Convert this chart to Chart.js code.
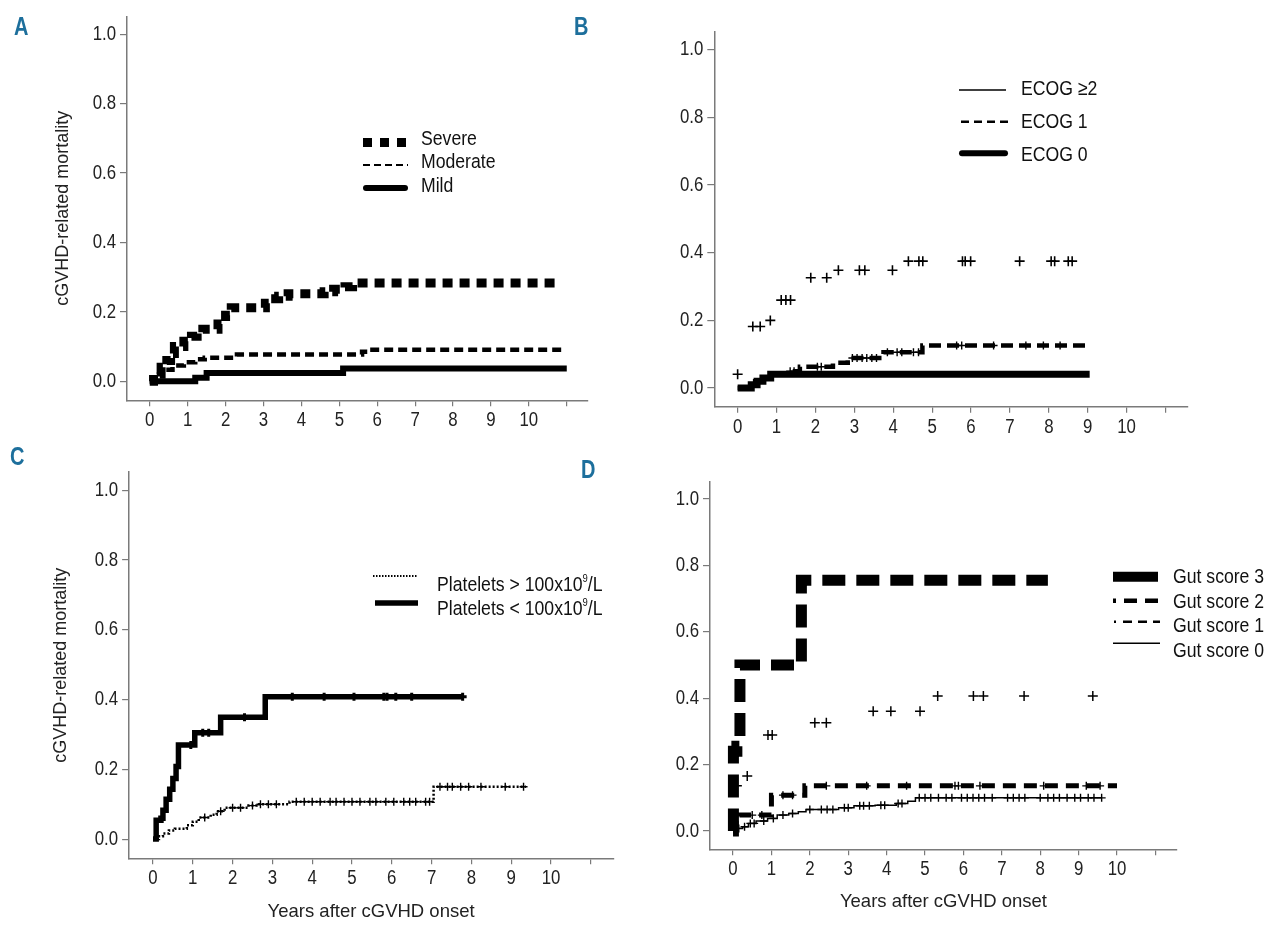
<!DOCTYPE html>
<html><head><meta charset="utf-8">
<script src="https://cdn.jsdelivr.net/npm/chart.js@4.4.0/dist/chart.umd.min.js"></script>
<style>
html,body{margin:0;padding:0;background:#fff;}
#fig{position:relative;width:1280px;height:930px;overflow:hidden;background:#fff;}
canvas{position:absolute;}
.plabel{position:absolute;color:#1d6f9c;font-weight:bold;font-size:25px;line-height:25px;font-family:"Liberation Sans",Arial,sans-serif;transform:scaleX(0.8);transform-origin:0 0;}
.leg{position:absolute;font-size:20.5px;line-height:21px;color:#111;white-space:nowrap;font-family:"Liberation Sans",Arial,sans-serif;transform:scaleX(0.86);transform-origin:0 0;}
.sup{font-size:11px;position:relative;top:-9px;}
#legsvg{position:absolute;left:0;top:0;pointer-events:none;}
</style></head>
<body>
<div id="fig">
<canvas id="cA" width="640" height="440" style="left:0;top:0;width:640px;height:440px"></canvas>
<canvas id="cB" width="640" height="440" style="left:640px;top:0;width:640px;height:440px"></canvas>
<canvas id="cC" width="640" height="490" style="left:0;top:440px;width:640px;height:490px"></canvas>
<canvas id="cD" width="640" height="490" style="left:640px;top:440px;width:640px;height:490px"></canvas>

<div class="plabel" style="left:14px;top:14px">A</div>
<div class="plabel" style="left:574px;top:14px">B</div>
<div class="plabel" style="left:10px;top:444px">C</div>
<div class="plabel" style="left:581px;top:457px">D</div>

<svg id="legsvg" width="1280" height="930">
  <!-- A -->
  <rect x="363" y="138" width="9" height="9" fill="#000"/>
  <rect x="380" y="138" width="9" height="9" fill="#000"/>
  <rect x="397" y="138" width="9" height="9" fill="#000"/>
  <line x1="363" y1="165" x2="408" y2="165" stroke="#000" stroke-width="2.2" stroke-dasharray="7 4"/>
  <line x1="366" y1="188" x2="405" y2="188" stroke="#000" stroke-width="6" stroke-linecap="round"/>
  <!-- B -->
  <line x1="959" y1="90" x2="1006" y2="90" stroke="#000" stroke-width="1.5"/>
  <line x1="961" y1="121.7" x2="1008" y2="121.7" stroke="#000" stroke-width="2.5" stroke-dasharray="8 5"/>
  <line x1="962" y1="153.3" x2="1005" y2="153.3" stroke="#000" stroke-width="6" stroke-linecap="round"/>
  <!-- C -->
  <line x1="373" y1="576" x2="418" y2="576" stroke="#000" stroke-width="2" stroke-dasharray="1.5 1.5"/>
  <line x1="375" y1="603" x2="418" y2="603" stroke="#000" stroke-width="5.5"/>
  <!-- D -->
  <line x1="1113" y1="576.7" x2="1158" y2="576.7" stroke="#000" stroke-width="10"/>
  <line x1="1113" y1="600.7" x2="1158" y2="600.7" stroke="#000" stroke-width="4.5" stroke-dasharray="3 8 13 8 13"/>
  <line x1="1114" y1="621.7" x2="1160" y2="621.7" stroke="#000" stroke-width="2.5" stroke-dasharray="2 7 9 6 9 6 9"/>
  <line x1="1113" y1="643.3" x2="1160" y2="643.3" stroke="#000" stroke-width="1.5"/>
</svg>

<div class="leg" style="left:421px;top:127px">Severe</div>
<div class="leg" style="left:421px;top:150px">Moderate</div>
<div class="leg" style="left:421px;top:174px">Mild</div>

<div class="leg" style="left:1021px;top:77px">ECOG ≥2</div>
<div class="leg" style="left:1021px;top:110px">ECOG 1</div>
<div class="leg" style="left:1021px;top:143px">ECOG 0</div>

<div class="leg" style="left:437px;top:573px">Platelets &gt; 100x10<span class="sup">9</span>/L</div>
<div class="leg" style="left:437px;top:597px">Platelets &lt; 100x10<span class="sup">9</span>/L</div>

<div class="leg" style="left:1173px;top:565px">Gut score 3</div>
<div class="leg" style="left:1173px;top:590px">Gut score 2</div>
<div class="leg" style="left:1173px;top:614px">Gut score 1</div>
<div class="leg" style="left:1173px;top:639px">Gut score 0</div>
</div>

<script>
// ---------- axis ticks ----------
const xTicks = [0,1,2,3,4,5,6,7,8,9,10,11];
const xTickLabels = ['0','1','2','3','4','5','6','7','8','9','10',''];
const yTicks = [0,0.2,0.4,0.6,0.8,1.0];
const yTickLabels = ['0.0','0.2','0.4','0.6','0.8','1.0'];
const yTitle = 'cGVHD-related mortality';
const xTitle = 'Years after cGVHD onset';

// ---------- Panel A: cGVHD severity ----------
const severeT = [0,0.1,0.3,0.45,0.55,0.65,0.9,1.1,1.25,1.4,1.8,2.0,2.15,3.05,3.15,3.4,3.65,4.6,4.85,5.15,5.35,10.85];
const severeV = [0,0.02,0.04,0.06,0.08,0.10,0.115,0.13,0.14,0.15,0.165,0.19,0.212,0.225,0.238,0.245,0.252,0.258,0.265,0.272,0.283,0.283];
const moderateT = [0,0.15,0.3,0.6,0.9,1.2,1.45,2.3,5.6,5.75,10.95];
const moderateV = [0,0.02,0.033,0.045,0.055,0.063,0.068,0.077,0.085,0.091,0.091];
const mildT = [0,1.2,1.5,5.1,11.0];
const mildV = [0,0.01,0.024,0.037,0.037];

// ---------- Panel B: ECOG ----------
const ecog2T = [0,0.39,0.58,0.84,1.12,1.24,1.36,1.88,2.29,2.59,3.13,3.27,3.98,4.39,4.66,4.76,5.78,5.85,5.99,7.25,8.06,8.15,8.5,8.6];
const ecog2V = [0.041,0.182,0.182,0.2,0.26,0.26,0.26,0.326,0.326,0.348,0.348,0.348,0.348,0.375,0.375,0.375,0.375,0.375,0.375,0.375,0.375,0.375,0.375,0.375];
const ecog1T = [0,0.3,0.45,0.6,0.85,1.3,1.6,2.45,2.83,3.75,4.75,9.0];
const ecog1V = [0,0.01,0.02,0.03,0.04,0.05,0.063,0.075,0.089,0.106,0.126,0.126];
const ecog1Cens = [1.35,1.45,2.05,2.15,2.95,3.07,3.2,3.32,3.45,3.57,3.85,4.1,4.22,4.52,4.65,5.63,5.76,6.58,7.41,7.86,8.29];
const ecog0T = [0,0.35,0.5,0.65,0.85,9.05];
const ecog0V = [0,0.01,0.02,0.03,0.041,0.041];

// ---------- Panel C: platelets ----------
const pltLowT = [0,0.08,0.2,0.25,0.33,0.42,0.5,0.58,0.64,1.05,1.7,2.82,7.78];
const pltLowV = [0,0.054,0.06,0.083,0.114,0.143,0.174,0.208,0.27,0.305,0.349,0.408,0.408];
const pltLowCens = [0.95,1.25,1.4,2.3,3.5,4.3,5.05,5.8,5.88,6.1,6.5,7.78];
const pltHighT = [0,0.15,0.25,0.4,0.55,0.85,1.0,1.15,1.45,1.6,1.8,2.4,2.6,3.43,7.05,9.37];
const pltHighV = [0,0.008,0.016,0.025,0.03,0.04,0.05,0.062,0.07,0.08,0.09,0.096,0.1,0.107,0.15,0.15];
const pltHighCens = [1.3,1.7,2.0,2.2,2.5,2.7,2.9,3.1,3.6,3.8,4.0,4.2,4.45,4.6,4.8,5.0,5.2,5.45,5.6,5.85,6.05,6.3,6.45,6.6,6.85,6.95,7.21,7.4,7.52,7.73,7.93,8.24,8.85,9.31];

// ---------- Panel D: gut score ----------
const gut3T = [0,0.01,0.1,0.18,1.78,8.2];
const gut3V = [0,0.24,0.255,0.5,0.755,0.755];
const gut2T = [0,0.02,0.08,0.17,1.0,1.87,10.0];
const gut2V = [0,0.02,0.04,0.048,0.108,0.136,0.136];
const gut2Cens = [0.5,0.75,1.3,1.55,2.43,3.48,4.52,5.78,5.87,6.43,8.09,9.2,9.56];
const gut1T = [0.1,0.37,0.91,1.02,2.13,2.43,3.65,4.11,4.87,5.33,6.26,6.52,7.58,9.37];
const gut1V = [0.136,0.166,0.289,0.289,0.326,0.326,0.361,0.361,0.361,0.407,0.407,0.407,0.407,0.407];
const gut0T = [0,0.08,0.25,0.4,0.6,0.9,1.15,1.45,1.7,1.9,2.75,3.15,3.7,4.25,4.55,4.75,9.6];
const gut0V = [0,0.008,0.013,0.023,0.03,0.038,0.048,0.053,0.058,0.065,0.07,0.076,0.078,0.083,0.09,0.1,0.1];
const gut0Cens = [0.15,0.3,0.45,0.55,0.8,1.05,1.3,1.55,2.0,2.3,2.45,2.6,2.9,3.0,3.3,3.4,3.55,3.85,3.95,4.3,4.4,4.85,5.0,5.15,5.35,5.55,5.7,5.95,6.1,6.25,6.4,6.55,6.75,7.15,7.3,7.45,7.6,8.0,8.2,8.35,8.5,8.7,8.9,9.05,9.25,9.4,9.6];

// ---------- helpers ----------
const FONT_R = '"Liberation Sans","Arial",sans-serif';
const NARROW = 0.82;   // horizontal squeeze for the condensed tick-label face
const X_MIN = -0.6, X_MAX = 11.56, Y_MIN = -0.055, Y_MAX = 1.052;

function pts(T, V){ return T.map((t,i)=>({x:t, y:V[i]})); }
function stepAt(T, V, t){ let v = V[0]; for (let i=0;i<T.length;i++){ if (T[i] <= t) v = V[i]; } return v; }
function censPts(T, V, C){ return C.map(t=>({x:t, y:stepAt(T,V,t)})); }

function stepLine(T, V, width, dash){
  return {data: pts(T,V), showLine:true, stepped:true, borderColor:'#000', backgroundColor:'#000',
          borderWidth:width, borderDash:dash||[], borderCapStyle:'butt', borderJoinStyle:'miter',
          pointRadius:0, pointHoverRadius:0, fill:false, tension:0};
}
function crosses(data, r, w){
  return {data: data, showLine:false, pointStyle:'cross', pointRadius:r, pointHoverRadius:r,
          pointBorderWidth:w, pointBorderColor:'#000', pointBackgroundColor:'#000', borderColor:'#000'};
}
// draw this scale's tick labels in a condensed form (squeezed around their anchor)
function condenseLabels(s){
  if (s._condensed) return;
  s._condensed = true;
  const orig = s.drawLabels;
  s.drawLabels = function(area){
    const ctx = this.ctx;
    const ft = ctx.fillText;
    ctx.fillText = function(text, x, y){
      this.save(); this.translate(x, y); this.scale(NARROW, 1); ft.call(this, text, 0, 0); this.restore();
    };
    try { orig.call(this, area); } finally { ctx.fillText = ft; }
  };
}

function makePanel(id, g, datasets){
  const L = g.left - g.cl, T = g.top - g.ct, R = g.right - g.cl, B = g.bottom - g.ct;
  const axisColor = '#7a7a7a';
  new Chart(document.getElementById(id), {
    type:'scatter',
    data:{datasets: datasets},
    options:{
      responsive:false, animation:false, devicePixelRatio:1,
      layout:{autoPadding:false, padding:{left:0, top:T, right:g.cw - R, bottom:0}},
      plugins:{legend:{display:false}, tooltip:{enabled:false}},
      scales:{
        x:{type:'linear', min:X_MIN, max:X_MAX,
          afterBuildTicks:(s)=>{ s.ticks = xTicks.map(v=>({value:v})); },
          afterFit:(s)=>{ s.height = g.ch - B; condenseLabels(s); },
          ticks:{autoSkip:false, maxRotation:0, padding:2, color:'#222',
                 font:{family:FONT_R, size:20.5}, callback:(v,i)=>xTickLabels[i]},
          grid:{drawOnChartArea:false, drawTicks:true, tickLength:6, color:axisColor, lineWidth:1.2},
          border:{display:true, color:axisColor, width:1.5},
          title:{display:!!g.xTitle, text:xTitle, color:'#222', font:{family:FONT_R, size:18.5},
                 padding:{top:0, bottom:g.xTitlePad||0}}
        },
        y:{type:'linear', min:Y_MIN, max:Y_MAX,
          afterBuildTicks:(s)=>{ s.ticks = yTicks.map(v=>({value:v})); },
          afterFit:(s)=>{ s.width = L; condenseLabels(s); },
          ticks:{autoSkip:false, padding:4, color:'#222',
                 font:{family:FONT_R, size:20.5}, callback:(v,i)=>yTickLabels[i]},
          grid:{drawOnChartArea:false, drawTicks:true, tickLength:7, color:axisColor, lineWidth:1.2},
          border:{display:true, color:axisColor, width:1.5},
          title:{display:!!g.yTitle, text:yTitle, color:'#222', font:{family:FONT_R, size:18},
                 padding:{top:g.yTitlePad||0, bottom:0}}
        }
      }
    }
  });
}

// Panel A
makePanel('cA', {cl:0, ct:0, cw:640, ch:440, left:127, top:11, right:588, bottom:400.3, yTitle:true, yTitlePad:52}, [
  stepLine(severeT, severeV, 9, [10,7]),
  stepLine(moderateT, moderateV, 4.5, [9,5]),
  stepLine(mildT, mildV, 6)
]);

// Panel B
makePanel('cB', {cl:640, ct:0, cw:640, ch:440, left:714.3, top:32, right:1187.3, bottom:406.7}, [
  crosses(pts(ecog2T, ecog2V), 5, 1.6),
  stepLine(ecog1T, ecog1V, 4.5, [12,6]),
  crosses(censPts(ecog1T, ecog1V, ecog1Cens), 4, 1.4),
  stepLine(ecog0T, ecog0V, 7)
]);

// Panel C
makePanel('cC', {cl:0, ct:440, cw:640, ch:490, left:129.1, top:472, right:613.1, bottom:858.3, yTitle:true, yTitlePad:50, xTitle:true, xTitlePad:6.5}, [
  stepLine(pltLowT, pltLowV, 5.5),
  crosses(censPts(pltLowT, pltLowV, pltLowCens), 4, 3),
  stepLine(pltHighT, pltHighV, 2.5, [2,2]),
  crosses(censPts(pltHighT, pltHighV, pltHighCens), 4, 1.4)
]);

// Panel D
makePanel('cD', {cl:640, ct:440, cw:640, ch:490, left:710, top:481.7, right:1176.9, bottom:849.3, xTitle:true, xTitlePad:16.5}, [
  stepLine(gut3T, gut3V, 11, [23,11]),
  stepLine(gut2T, gut2V, 5, [13,8]),
  crosses(censPts(gut2T, gut2V, gut2Cens), 4, 1.4),
  crosses(pts(gut1T, gut1V), 5, 1.5),
  stepLine(gut0T, gut0V, 1.5),
  crosses(censPts(gut0T, gut0V, gut0Cens), 4, 1.4)
]);
</script>
</body></html>
